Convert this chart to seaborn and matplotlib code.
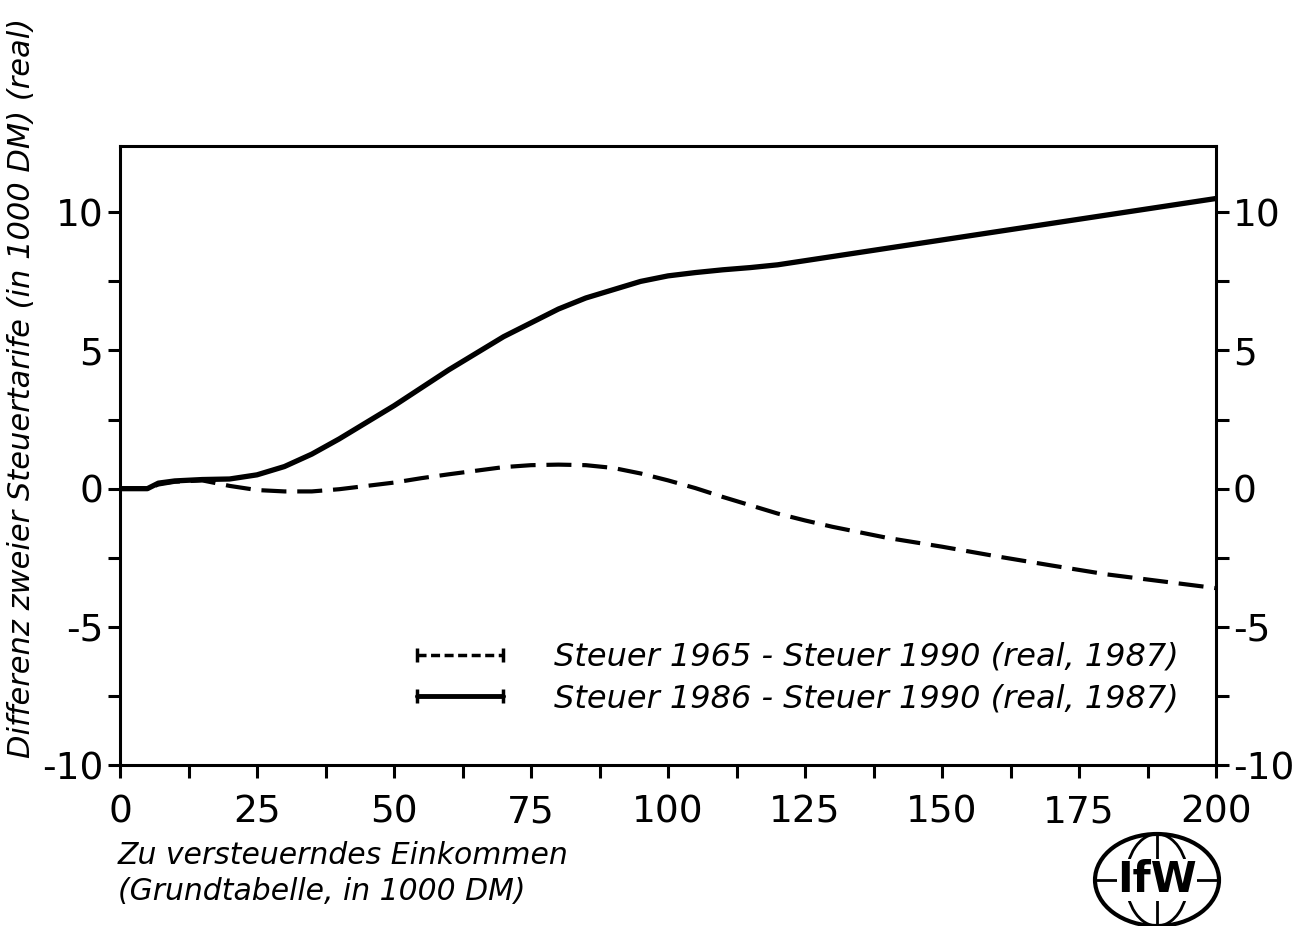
import numpy as np
import pandas as pd
import matplotlib
matplotlib.use("Agg")
import matplotlib.pyplot as plt
import seaborn as sns
from matplotlib.lines import Line2D
from matplotlib.patches import Ellipse

# data (income in 1000 DM, difference in 1000 DM)
einkommen = [0, 5, 7, 10, 15, 20, 25, 30, 35, 40, 45, 50, 55, 60, 65, 70, 75, 80, 85, 90,
             95, 100, 105, 110, 115, 120, 125, 130, 140, 150, 160, 170, 180, 190, 200]
diff_1965 = [0.0, 0.0, 0.15, 0.25, 0.3, 0.1, -0.05, -0.1, -0.1, -0.02, 0.1, 0.22, 0.38, 0.52, 0.65,
             0.78, 0.85, 0.87, 0.85, 0.75, 0.55, 0.3, 0.02, -0.3, -0.6, -0.9, -1.15, -1.38, -1.78,
             -2.1, -2.45, -2.78, -3.1, -3.35, -3.6]
diff_1986 = [0.0, 0.0, 0.2, 0.28, 0.33, 0.35, 0.5, 0.8, 1.25, 1.8, 2.4, 3.0, 3.65, 4.3, 4.9,
             5.5, 6.0, 6.5, 6.9, 7.2, 7.5, 7.7, 7.82, 7.92, 8.0, 8.1, 8.25, 8.4, 8.7,
             9.0, 9.3, 9.6, 9.9, 10.2, 10.5]
labels = ["Steuer 1965 - Steuer 1990 (real, 1987)",
          "Steuer 1986 - Steuer 1990 (real, 1987)"]

df = pd.DataFrame({"x": einkommen, "d65": diff_1965, "d86": diff_1986})

sns.set_style("white")
plt.rcParams['font.family'] = ['DejaVu Sans']
plt.rcParams['axes.unicode_minus'] = False
plt.rcParams['text.color'] = "black"

fig = plt.figure(figsize=(13.14, 9.26), dpi=100)
ax = fig.add_axes([120/1314, 1 - 765/926, (1216-120)/1314, (765-146)/926])

sns.lineplot(data=df, x="x", y="d65", ax=ax, color="black", lw=3,
             linestyle=(0, (6, 2.6)))
sns.lineplot(data=df, x="x", y="d86", ax=ax, color="black", lw=3.8)

ax.set_xlim(0, 200)
ax.set_ylim(-10, 12.4)
ax.set_xticks(np.arange(0, 201, 25))
ax.set_xticks(np.arange(0, 201, 12.5), minor=True)
ax.set_yticks([-10, -5, 0, 5, 10])
ax.set_yticks(np.arange(-10, 12.4, 2.5), minor=True)
ax.set_xlabel("")
ax.set_ylabel("")

for sp in ax.spines.values():
    sp.set_linewidth(2.2)
    sp.set_color("black")

ax.tick_params(axis="both", which="both", direction="out", length=9, width=2.2,
               colors="black", labelsize=27)
ax.tick_params(axis="y", which="both", left=True, right=True, labelright=True, pad=3)
ax.tick_params(axis="x", which="both", bottom=True, top=False, pad=12)

handles = [Line2D([], [], color="black", lw=2.5, linestyle=(0, (2.6, 1.3)), marker="|",
                  markersize=10, markeredgewidth=2.5),
           Line2D([], [], color="black", lw=3.5, marker="|", markersize=10, markeredgewidth=2.5)]
ax.legend(handles, labels, loc="upper left", bbox_to_anchor=(407/1314, 1 - 642/926),
          bbox_transform=fig.transFigure, frameon=False, numpoints=2,
          prop={"style": "italic", "size": 23}, handlelength=3.3, handletextpad=1.3,
          labelspacing=0.33, borderpad=0, borderaxespad=0)

fig.text(22/1314, 1 - 388/926, "Differenz zweier Steuertarife (in 1000 DM) (real)",
         rotation=90, ha="center", va="center", fontsize=22, style="italic")
fig.text(118/1314, 1 - 856/926, "Zu versteuerndes Einkommen", ha="left", va="center",
         fontsize=21.5, style="italic")
fig.text(118/1314, 1 - 891/926, "(Grundtabelle, in 1000 DM)", ha="left", va="center",
         fontsize=21.5, style="italic")

# IfW logo
lx, ly = 1157/1314, 1 - 880/926
w, h = 124/1314, 92/926
fig.patches.append(Ellipse((lx, ly), w, h, transform=fig.transFigure, fill=False,
                           lw=3, ec="black"))
fig.patches.append(Ellipse((lx, ly), w * 0.5, h, transform=fig.transFigure, fill=False,
                           lw=2, ec="black"))
fig.lines.append(Line2D([lx - w/2, lx + w/2], [ly, ly], transform=fig.transFigure,
                        color="black", lw=2))
fig.lines.append(Line2D([lx, lx], [ly - h/2, ly + h/2], transform=fig.transFigure,
                        color="black", lw=2))
fig.text(lx, ly, "IfW", ha="center", va="center", fontsize=30, fontweight="heavy",
         bbox=dict(facecolor="white", edgecolor="none", pad=0))

fig.savefig("out.png", dpi=100)
